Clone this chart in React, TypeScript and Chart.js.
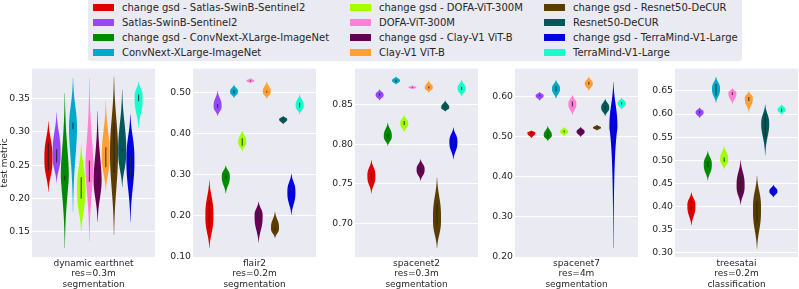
import React, { useEffect, useRef } from "react";
import { Chart, registerables } from "chart.js";

Chart.register(...registerables);

// ---------------- data ----------------
const seriesNames = [
  "change gsd - Satlas-SwinB-Sentinel2",
  "Satlas-SwinB-Sentinel2",
  "change gsd - ConvNext-XLarge-ImageNet",
  "ConvNext-XLarge-ImageNet",
  "change gsd - DOFA-ViT-300M",
  "DOFA-ViT-300M",
  "change gsd - Clay-V1 ViT-B",
  "Clay-V1 ViT-B",
  "change gsd - Resnet50-DeCUR",
  "Resnet50-DeCUR",
  "change gsd - TerraMind-V1-Large",
  "TerraMind-V1-Large",
];

const seriesColors = [
  "#df0000",
  "#9747fb",
  "#008a00",
  "#00a9c9",
  "#a0ff00",
  "#ff80d4",
  "#660052",
  "#ffa035",
  "#5c3d00",
  "#005858",
  "#0000e0",
  "#14ffcc",
];

const panelTitles = [
  ["dynamic earthnet", "res=0.3m", "segmentation"],
  ["flair2", "res=0.2m", "segmentation"],
  ["spacenet2", "res=0.3m", "segmentation"],
  ["spacenet7", "res=4m", "segmentation"],
  ["treesatai", "res=0.2m", "classification"],
];

// each violin: [lowTip, q1, peak, q3, highTip, (lower tail sharpness), (upper tail sharpness)]
const dynamicEarthnet = [
  [0.21, 0.242, 0.26, 0.284, 0.316],
  [0.224, 0.254, 0.265, 0.274, 0.329],
  [0.125, 0.227, 0.235, 0.234, 0.358, 1.6, 1.8],
  [0.18, 0.304, 0.305, 0.314, 0.381, 1.8, 2.2],
  [0.15, 0.2, 0.212, 0.232, 0.282],
  [0.135, 0.225, 0.25, 0.257, 0.381, 1.8, 1.6],
  [0.165, 0.22, 0.228, 0.234, 0.331, 2.2, 1.8],
  [0.212, 0.247, 0.265, 0.277, 0.346, 2.8, 2.2],
  [0.145, 0.239, 0.27, 0.314, 0.383, 2.2, 2.2],
  [0.217, 0.271, 0.273, 0.275, 0.363, 2.8, 2.2],
  [0.165, 0.23, 0.255, 0.264, 0.326, 2.2, 2.8],
  [0.306, 0.346, 0.352, 0.356, 0.376],
];

const flair2 = [
  [0.122, 0.17, 0.2, 0.238, 0.286],
  [0.442, 0.462, 0.466, 0.471, 0.503],
  [0.254, 0.29, 0.296, 0.3, 0.322],
  [0.486, 0.497, 0.501, 0.505, 0.518],
  [0.356, 0.37, 0.38, 0.388, 0.407],
  [0.522, 0.526, 0.527, 0.528, 0.534],
  [0.135, 0.193, 0.2, 0.206, 0.234],
  [0.484, 0.499, 0.501, 0.503, 0.526],
  [0.146, 0.164, 0.17, 0.173, 0.21],
  [0.422, 0.432, 0.434, 0.436, 0.442],
  [0.202, 0.252, 0.258, 0.268, 0.302],
  [0.446, 0.462, 0.468, 0.474, 0.495],
];

const spacenet2 = [
  [0.738, 0.755, 0.76, 0.764, 0.78],
  [0.855, 0.861, 0.862, 0.864, 0.869],
  [0.798, 0.807, 0.81, 0.813, 0.827],
  [0.875, 0.878, 0.88, 0.881, 0.885],
  [0.815, 0.824, 0.826, 0.829, 0.837],
  [0.869, 0.871, 0.8715, 0.872, 0.874],
  [0.754, 0.766, 0.768, 0.771, 0.781],
  [0.865, 0.87, 0.871, 0.873, 0.88],
  [0.669, 0.698, 0.706, 0.725, 0.758],
  [0.841, 0.845, 0.846, 0.848, 0.855],
  [0.781, 0.8, 0.803, 0.806, 0.821],
  [0.86, 0.868, 0.87, 0.872, 0.881],
];

const spacenet7 = [
  [0.496, 0.507, 0.509, 0.511, 0.515],
  [0.589, 0.6, 0.602, 0.604, 0.611],
  [0.489, 0.498, 0.503, 0.51, 0.526],
  [0.594, 0.612, 0.619, 0.626, 0.641],
  [0.501, 0.51, 0.512, 0.515, 0.524],
  [0.553, 0.575, 0.581, 0.587, 0.604],
  [0.499, 0.51, 0.512, 0.515, 0.524],
  [0.614, 0.629, 0.632, 0.636, 0.649],
  [0.515, 0.521, 0.522, 0.523, 0.529],
  [0.551, 0.567, 0.572, 0.577, 0.594],
  [0.222, 0.49, 0.52, 0.54, 0.635, 0.9, 2.6],
  [0.567, 0.58, 0.583, 0.586, 0.597],
];

const treesatai = [
  [0.359, 0.385, 0.402, 0.416, 0.431],
  [0.591, 0.601, 0.604, 0.607, 0.614],
  [0.456, 0.485, 0.491, 0.497, 0.52],
  [0.624, 0.64, 0.654, 0.665, 0.681],
  [0.481, 0.497, 0.502, 0.506, 0.531],
  [0.621, 0.641, 0.645, 0.647, 0.656],
  [0.404, 0.43, 0.445, 0.465, 0.5],
  [0.604, 0.628, 0.634, 0.637, 0.649],
  [0.309, 0.365, 0.395, 0.412, 0.466],
  [0.511, 0.55, 0.577, 0.6, 0.62, 2.0, 2.8],
  [0.42, 0.43, 0.433, 0.436, 0.447],
  [0.599, 0.605, 0.609, 0.612, 0.621],
];

const panelStats = [dynamicEarthnet, flair2, spacenet2, spacenet7, treesatai];

const yMins = [0.112, 0.1, 0.658, 0.2, 0.291];
const yMaxs = [0.395, 0.557, 0.895, 0.669, 0.698];

const yTicks = [
  [0.15, 0.2, 0.25, 0.3, 0.35],
  [0.1, 0.2, 0.3, 0.4, 0.5],
  [0.7, 0.75, 0.8, 0.85],
  [0.2, 0.3, 0.4, 0.5, 0.6],
  [0.3, 0.35, 0.4, 0.45, 0.5, 0.55, 0.6, 0.65],
];

// ---------------- layout ----------------
const PANEL_LEFT = [32, 193, 355, 515, 675];
const PANEL_W = 123;
const AXIS_W = [32, 30, 30, 30, 30];
const CANVAS_TOP = 62;
const CANVAS_H = 227;
const PAD_TOP = 5;
const XAXIS_H = 32;
const N_HUE = 12;
const HUE_W = 0.8 / N_HUE;
const TEXT = "#262626";
const FONT = "DejaVu Sans";
const DEFAULT_SHARP = 2.8;

function makeViolinPlugin(stats: number[][]) {
  return {
    id: "violinLayer",
    beforeDraw(chart: any) {
      const { ctx, chartArea: a } = chart;
      ctx.save();
      ctx.fillStyle = "#EAEAF2";
      ctx.fillRect(a.left, a.top, a.width, a.height);
      ctx.restore();
    },
    afterDatasetsDraw(chart: any) {
      const { ctx, chartArea: a } = chart;
      const xs = chart.scales.x;
      const ys = chart.scales.y;
      const half = (xs.getPixelForValue(HUE_W / 2) - xs.getPixelForValue(0)) * 0.98;
      ctx.save();
      ctx.beginPath();
      ctx.rect(a.left, a.top, a.width, a.height);
      ctx.clip();
      stats.forEach((s, i) => {
        const [lo, q1, pk, q3, hi] = s;
        const pLo = s[5] ?? DEFAULT_SHARP;
        const pHi = s[6] ?? DEFAULT_SHARP;
        const cx = xs.getPixelForValue((i - (N_HUE - 1) / 2) * HUE_W);
        const N = 160;
        const left: [number, number][] = [];
        const right: [number, number][] = [];
        for (let k = 0; k <= N; k++) {
          const v = lo + ((hi - lo) * k) / N;
          const d = v - pk;
          const u = d < 0 ? -d / Math.max(pk - lo, 1e-6) : d / Math.max(hi - pk, 1e-6);
          const p = d < 0 ? pLo : pHi;
          const w = half * Math.exp(-3.3 * Math.pow(Math.min(u, 1), p));
          const py = ys.getPixelForValue(v);
          left.push([cx - w, py]);
          right.push([cx + w, py]);
        }
        ctx.beginPath();
        left.forEach(([x, y], k) => (k === 0 ? ctx.moveTo(x, y) : ctx.lineTo(x, y)));
        for (let k = right.length - 1; k >= 0; k--) ctx.lineTo(right[k][0], right[k][1]);
        ctx.closePath();
        ctx.fillStyle = seriesColors[i];
        ctx.fill();
        // inner box (IQR)
        ctx.beginPath();
        ctx.moveTo(cx, ys.getPixelForValue(q1));
        ctx.lineTo(cx, ys.getPixelForValue(q3));
        ctx.strokeStyle = "rgba(38,38,38,0.85)";
        ctx.lineWidth = 1.1;
        ctx.stroke();
      });
      ctx.restore();
    },
  };
}

function Panel({ idx }: { idx: number }) {
  const ref = useRef<HTMLCanvasElement | null>(null);
  const width = AXIS_W[idx] + PANEL_W;
  useEffect(() => {
    if (!ref.current) return;
    const chart = new Chart(ref.current, {
      type: "scatter",
      data: { datasets: [] },
      plugins: [makeViolinPlugin(panelStats[idx]) as any],
      options: {
        animation: false,
        responsive: false,
        devicePixelRatio: 1,
        layout: { padding: { top: PAD_TOP, right: 0, bottom: 0, left: 0 } },
        plugins: { legend: { display: false }, tooltip: { enabled: false } },
        scales: {
          x: {
            type: "linear",
            min: -0.5,
            max: 0.5,
            grid: { display: false, drawTicks: false },
            border: { display: false },
            afterBuildTicks: (s: any) => {
              s.ticks = [{ value: 0 }];
            },
            afterFit: (s: any) => {
              s.height = XAXIS_H;
            },
            ticks: {
              autoSkip: false,
              maxRotation: 0,
              padding: 1,
              color: TEXT,
              font: { family: FONT, size: 9, lineHeight: 1.17 },
              callback: () => panelTitles[idx],
            },
          },
          y: {
            type: "linear",
            min: yMins[idx],
            max: yMaxs[idx],
            grid: { color: "#ffffff", lineWidth: 1, drawTicks: false },
            border: { display: false },
            afterBuildTicks: (s: any) => {
              s.ticks = yTicks[idx].map((v) => ({ value: v }));
            },
            afterFit: (s: any) => {
              s.width = AXIS_W[idx];
            },
            ticks: {
              padding: 2,
              color: TEXT,
              font: { family: FONT, size: 9.3, lineHeight: 1 },
              callback: (v: any) => Number(v).toFixed(2),
            },
            title: {
              display: idx === 0,
              text: "test metric",
              color: TEXT,
              font: { family: FONT, size: 9, lineHeight: 1.1 },
              padding: { top: 0, bottom: 0 },
            },
          },
        },
      } as any,
    });
    return () => chart.destroy();
  }, [idx]);
  return (
    <canvas
      ref={ref}
      width={width}
      height={CANVAS_H}
      style={{
        position: "absolute",
        left: PANEL_LEFT[idx] - AXIS_W[idx],
        top: CANVAS_TOP,
        width,
        height: CANVAS_H,
        display: "block",
      }}
    />
  );
}

function Legend() {
  const colX = [93, 350, 544];
  return (
    <div
      style={{
        position: "absolute",
        left: 88,
        top: -4,
        width: 654,
        height: 65,
        background: "#EAEAF2",
        borderRadius: 3,
        fontFamily: FONT,
        fontSize: 10,
        color: TEXT,
      }}
    >
      {seriesNames.map((name, i) => {
        const col = Math.floor(i / 4);
        const row = i % 4;
        const cy = 4 + 7.5 + row * 15;
        return (
          <div key={name}>
            <div
              style={{
                position: "absolute",
                left: colX[col] - 88,
                top: cy - 3.5,
                width: 21,
                height: 7,
                background: seriesColors[i],
              }}
            />
            <div
              style={{
                position: "absolute",
                left: colX[col] - 88 + 29,
                top: cy - 7,
                height: 14,
                lineHeight: "14px",
                whiteSpace: "nowrap",
              }}
            >
              {name}
            </div>
          </div>
        );
      })}
    </div>
  );
}

export default function App() {
  return (
    <div
      style={{
        position: "fixed",
        left: 0,
        top: 0,
        width: 799,
        height: 289,
        background: "#ffffff",
        overflow: "hidden",
      }}
    >
      <Legend />
      {[0, 1, 2, 3, 4].map((i) => (
        <Panel key={i} idx={i} />
      ))}
    </div>
  );
}
